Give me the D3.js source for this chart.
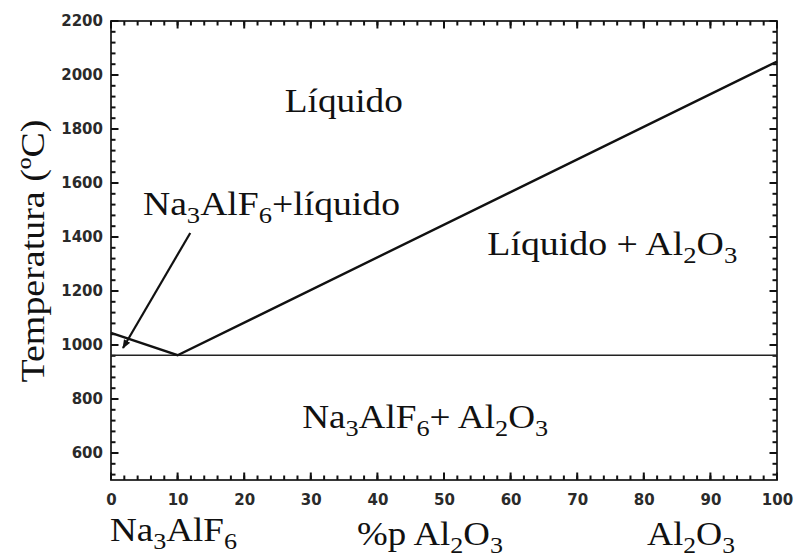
<!DOCTYPE html>
<html>
<head>
<meta charset="utf-8">
<script src="https://cdn.jsdelivr.net/npm/d3@7"></script>
<style>
  body { margin: 0; background: #fff; }
  .tick text { font-family: "DejaVu Sans", sans-serif; font-weight: bold; font-size: 15px; fill: #2a2a2a; }
  .lbl { font-family: "Liberation Serif", "Times New Roman", serif; font-size: 34px; fill: #111; }
</style>
</head>
<body>
<svg id="chart" width="795" height="559"></svg>
<script>
// liquidus curve (%p Al2O3, °C)
const liquidusX = [0, 10, 100];
const liquidusT = [1045, 962, 2050];
// eutectic isotherm
const eutecticT = 962;
// tick labels
const xTicks = [0, 10, 20, 30, 40, 50, 60, 70, 80, 90, 100];
const yTicks = [600, 800, 1000, 1200, 1400, 1600, 1800, 2000, 2200];
// arrow pointing at Na3AlF6+liquid field
const arrowFrom = [11.9, 1415];
const arrowTo = [1.8, 989];

const margin = { left: 111, right: 18, top: 21, bottom: 79 };
const W = 795, H = 559;

const svg = d3.select("#chart");
const x = d3.scaleLinear().domain([0, 100]).range([margin.left, W - margin.right]);
const y = d3.scaleLinear().domain([500, 2200]).range([H - margin.bottom, margin.top]);

const minorX = d3.range(0, 101, 2);
const minorY = d3.range(520, 2201, 40);

// frame
svg.append("rect")
    .attr("x", x(0)).attr("y", y(2200))
    .attr("width", x(100) - x(0)).attr("height", y(500) - y(2200))
    .attr("fill", "none").attr("stroke", "#222").attr("stroke-width", 1.8);

// inward tick marks on all four sides
const ticks = svg.append("g").attr("stroke", "#111").attr("stroke-width", 2);
function xMarks(vals, len) {
    [[y(500), -1], [y(2200), 1]].forEach(([y0, dir]) => {
        ticks.selectAll(null).data(vals).join("line")
            .attr("x1", d => x(d)).attr("x2", d => x(d))
            .attr("y1", y0).attr("y2", y0 + dir * len);
    });
}
function yMarks(vals, len) {
    [[x(0), 1], [x(100), -1]].forEach(([x0, dir]) => {
        ticks.selectAll(null).data(vals).join("line")
            .attr("y1", d => y(d)).attr("y2", d => y(d))
            .attr("x1", x0).attr("x2", x0 + dir * len);
    });
}
xMarks(minorX, 4.5);
yMarks(minorY, 4.5);
xMarks(xTicks, 7.5);
yMarks(yTicks, 7.5);

// tick labels
const xAxis = svg.append("g").attr("transform", `translate(0,${y(500)})`)
    .call(d3.axisBottom(x).tickValues(xTicks).tickSize(0).tickPadding(14).tickFormat(d3.format("d")));
xAxis.select(".domain").remove();
const yAxis = svg.append("g").attr("transform", `translate(${x(0)},0)`)
    .call(d3.axisLeft(y).tickValues(yTicks).tickSize(0).tickPadding(8).tickFormat(d3.format("d")));
yAxis.select(".domain").remove();

// eutectic line
svg.append("line")
    .attr("x1", x(0)).attr("x2", x(100))
    .attr("y1", y(eutecticT)).attr("y2", y(eutecticT))
    .attr("stroke", "#222").attr("stroke-width", 1.6);

// liquidus
const line = d3.line().x(d => x(d[0])).y(d => y(d[1]));
svg.append("path")
    .datum(liquidusX.map((v, i) => [v, liquidusT[i]]))
    .attr("d", line)
    .attr("fill", "none").attr("stroke", "#111").attr("stroke-width", 2.4);

// arrow
svg.append("defs").append("marker")
    .attr("id", "head").attr("viewBox", "0 0 10 10")
    .attr("refX", 9).attr("refY", 5)
    .attr("markerWidth", 9).attr("markerHeight", 9)
    .attr("markerUnits", "userSpaceOnUse")
    .attr("orient", "auto")
    .append("path").attr("d", "M0,1 L10,5 L0,9 Z").attr("fill", "#111");
svg.append("line")
    .attr("x1", x(arrowFrom[0])).attr("y1", y(arrowFrom[1]))
    .attr("x2", x(arrowTo[0])).attr("y2", y(arrowTo[1]))
    .attr("stroke", "#111").attr("stroke-width", 2.2)
    .attr("marker-end", "url(#head)");

// text with subscripts: parts = [[text, isSub], ...]
function label(px, py, parts, len, rotate) {
    const t = svg.append("text").attr("class", "lbl")
        .attr("x", px).attr("y", py);
    if (rotate) t.attr("transform", `rotate(-90,${px},${py})`).attr("text-anchor", "middle");
    let sub = false;
    parts.forEach(p => {
        const s = t.append("tspan").text(p[0]);
        if (p[1] && !sub) s.attr("dy", 8).style("font-size", "24px");
        else if (p[1]) s.style("font-size", "24px");
        else if (sub) s.attr("dy", -8);
        sub = p[1];
    });
    if (len) t.attr("textLength", len).attr("lengthAdjust", "spacingAndGlyphs");
    return t;
}

// field labels (anchored in data coordinates)
label(x(26.1), y(1863), [["Líquido", 0]], 118);
label(x(4.8), y(1481), [["Na", 0], ["3", 1], ["AlF", 0], ["6", 1], ["+líquido", 0]], 257);
label(x(56.5), y(1333), [["Líquido + Al", 0], ["2", 1], ["O", 0], ["3", 1]], 250);
label(x(28.7), y(693), [["Na", 0], ["3", 1], ["AlF", 0], ["6", 1], ["+ Al", 0], ["2", 1], ["O", 0], ["3", 1]], 246);

// axis titles
label(110, 541, [["Na", 0], ["3", 1], ["AlF", 0], ["6", 1]], 127);
label(357, 545, [["%p Al", 0], ["2", 1], ["O", 0], ["3", 1]], 146);
label(647, 545, [["Al", 0], ["2", 1], ["O", 0], ["3", 1]], 88);
label(44, 251, [["Temperatura (ºC)", 0]], 263, true);
</script>
</body>
</html>
